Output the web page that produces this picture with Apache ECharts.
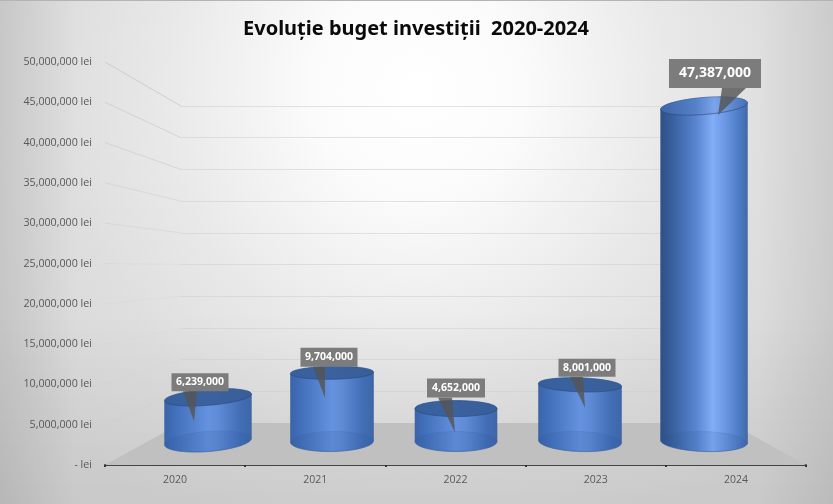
<!DOCTYPE html>
<html><head><meta charset="utf-8">
<style>
html,body{margin:0;padding:0;width:833px;height:504px;overflow:hidden}
body{background:
 linear-gradient(to right,rgba(0,0,0,.09) 0,rgba(0,0,0,0) 9%,rgba(0,0,0,0) 91%,rgba(0,0,0,.07) 100%),
 linear-gradient(to bottom,rgba(0,0,0,0) 62%,rgba(0,0,0,.07) 100%),
 radial-gradient(ellipse 480px 500px at 417px 90px,#ffffff 0%,#fbfbfb 22%,#e9e9e9 52%,#dedede 75%,#d8d8d8 100%)}
#topline{position:absolute;left:0;top:0;width:833px;height:1px;background:#b4b4b4}
#c{position:absolute;left:0;top:0;width:833px;height:504px}
</style>
<script src="https://cdn.jsdelivr.net/npm/echarts@6/dist/echarts.min.js"></script>
</head><body><div id="topline"></div><div id="c"></div>
<script>
const categories = ['2020','2021','2022','2023','2024'];
const budget = [6239000,9704000,4652000,8001000,47387000];
const axisMax = 50000000;
const axisStep = 5000000;
const tickValues = [0,5000000,10000000,15000000,20000000,25000000,30000000,35000000,40000000,45000000,50000000];
const chartTitle = 'Evoluție buget investiții  2020-2024';

// layout only
const front = {left:105,top:62,width:701,height:403};
const mid   = {left:146,top:87.5,width:620,height:354};
const back  = {left:181,top:106,width:549,height:317};
const halfWidth = [43.5,41.5,41,41.5,43.5];
const topTilt = [-4.5,-1,0,2,-4.5];
const botTilt = [-4.5,-1,0,2,2];
const topRy = [8,6.5,8,7,8.5];
const botRy = [10,10,10,10,10];
// box centre dx, box bottom dy, box w, box h, base x0, base x1, tip dx, tip dy (relative to cylinder top centre)
const callouts = [
 [-8,-6,57,18,-25,-11,-14,24],
 [-3,-6,57,19,-19,-7,-7,25],
 [0,-11,58,19,-18,-4,-1,24],
 [7,-8,57,18,-10,3,5,23],
 [11,-18,92,29,18,42,14,9]
];
const fontUi = '"Open Sans","Noto Sans",sans-serif';

const chart = echarts.init(document.getElementById('c'),null,{renderer:'canvas'});

function ell(cx,cy,rx,ry,deg,from,to,n){
  const a=deg*Math.PI/180,pts=[];
  for(let i=0;i<=n;i++){
    const t=from+(to-from)*i/n;
    const x=rx*Math.cos(t),y=ry*Math.sin(t);
    pts.push([cx+x*Math.cos(a)-y*Math.sin(a),cy+x*Math.sin(a)+y*Math.cos(a)]);
  }
  return pts;
}
function grad(stops){
  return {type:'linear',x:0,y:0,x2:1,y2:0,colorStops:stops.map(s=>({offset:s[0],color:s[1]}))};
}
const bodyShort = grad([[0,'#3a64aa'],[0.12,'#416fb9'],[0.5,'#6592de'],[0.62,'#5f8bd6'],[0.88,'#416db5'],[1,'#3f66a8']]);
const bodyTall  = grad([[0,'#2f4f85'],[0.14,'#38609f'],[0.42,'#5b87d2'],[0.6,'#82aef8'],[0.72,'#6f9ae6'],[0.92,'#4a78c2'],[1,'#43699f']]);
const capShort  = grad([[0,'#36609c'],[0.5,'#3b629f'],[1,'#385e98']]);
const capTall   = grad([[0,'#3f67a8'],[0.4,'#5480c8'],[0.62,'#7aa4ec'],[1,'#4671b6']]);

const option = {
  animation:false,
  title:{text:chartTitle,left:411,top:14,textAlign:'center',
    textStyle:{fontFamily:'"Noto Sans",sans-serif',fontSize:20,fontWeight:'bold',color:'#0a0a0a'}},
  grid:[
    {left:front.left,top:front.top,width:front.width,height:front.height},
    {left:mid.left,top:mid.top,width:mid.width,height:mid.height},
    {left:back.left,top:back.top,width:back.width,height:back.height}
  ],
  xAxis:[
    {type:'category',gridIndex:0,data:categories,
     axisLine:{lineStyle:{color:'#444444',width:2}},
     axisTick:{show:true,length:2,alignWithLabel:false,lineStyle:{color:'#333',width:2}},
     axisLabel:{color:'#595959',fontSize:10.5,fontFamily:fontUi,margin:10}},
    {type:'category',gridIndex:1,data:categories,show:false},
    {type:'category',gridIndex:2,data:categories,show:false}
  ],
  yAxis:[
    {type:'value',gridIndex:0,min:0,max:axisMax,interval:axisStep,
     axisLine:{show:false},axisTick:{show:false},splitLine:{show:false},
     axisLabel:{color:'#595959',fontSize:10.7,fontFamily:fontUi,margin:13,
       formatter:v=>v===0?'- lei':v.toLocaleString('en-US')+' lei'}},
    {type:'value',gridIndex:1,min:0,max:axisMax,interval:axisStep,show:false,splitLine:{show:false}},
    {type:'value',gridIndex:2,min:0,max:axisMax,interval:axisStep,
     axisLine:{show:false},axisTick:{show:false},axisLabel:{show:false},
     splitLine:{show:true,lineStyle:{color:'rgba(205,205,205,0.55)',width:1}}}
  ],
  series:[
    { // floor
      type:'custom',xAxisIndex:0,yAxisIndex:0,z:1,silent:true,data:[0],
      renderItem:(p,api)=>{
        const f0=api.coord([0,0])[1], cs=p.coordSys;
        return {type:'polygon',shape:{points:[[cs.x,f0],[cs.x+cs.width,f0],[back.left+back.width,back.top+back.height],[back.left,back.top+back.height]]},
          style:{fill:'#c0c0c0'}};
      }
    },
    { // side-wall lines, fading towards the floor as in the picture
      type:'custom',xAxisIndex:0,yAxisIndex:0,z:1,silent:true,
      data:tickValues.slice(1).map(v=>[0,v]),
      encode:{y:1},
      renderItem:(p,api)=>{
        const v=api.value(1), y0=api.coord([0,v])[1], cs=p.coordSys;
        const y1=back.top+back.height-back.height*v/axisMax;
        const a=Math.max(0.04,(v/axisMax-0.3)*0.85);
        return {type:'line',shape:{x1:cs.x,y1:y0,x2:back.left,y2:y1},style:{stroke:'rgba(190,190,190,'+a+')',lineWidth:1}};
      }
    },
    { // cylinders and callouts
      type:'custom',xAxisIndex:1,yAxisIndex:1,z:5,silent:true,
      data:budget.map((v,i)=>[i,v]),
      encode:{x:0,y:1},
      renderItem:(p,api)=>{
        const i=api.value(0), v=api.value(1);
        const t=api.coord([i,v]), b=api.coord([i,0]);
        const cx=t[0], ty=t[1], by=b[1], rx=halfWidth[i];
        const tall=v>axisMax/2;
        const topE=ell(cx,ty,rx,topRy[i],topTilt[i],0,Math.PI*2,60);
        const botHalf=ell(cx,by,rx,botRy[i],botTilt[i],0,Math.PI,40);
        const topHalf=ell(cx,ty,rx,topRy[i],topTilt[i],Math.PI,Math.PI*2,40);
        const botE=ell(cx,by,rx,botRy[i],botTilt[i],0,Math.PI*2,60);
        const frontRim=ell(cx,ty,rx,topRy[i],topTilt[i],0,Math.PI,40);
        const c=callouts[i];
        const boxX=cx+c[0]-c[2]/2, boxBottom=ty+c[1];
        const size=tall?14:10.5;
        const label=v.toLocaleString('en-US');
        return {type:'group',children:[
          {type:'polygon',shape:{points:botHalf.concat(topHalf)},style:{fill:tall?bodyTall:bodyShort,stroke:'#3f659f',lineWidth:0.6}},
          {type:'polygon',shape:{points:botE},style:{fill:'rgba(35,70,140,0.12)',stroke:'rgba(60,100,165,0.3)',lineWidth:0.6}},
          {type:'polygon',shape:{points:topE},style:{fill:tall?capTall:capShort,stroke:'rgba(50,85,140,0.5)',lineWidth:0.6}},
          {type:'polyline',shape:{points:frontRim},style:{fill:'none',stroke:'rgba(35,60,110,0.35)',lineWidth:1}},
          {type:'polygon',shape:{points:[[cx+c[4],boxBottom],[cx+c[5],boxBottom],[cx+c[6],ty+c[7]]]},
            style:{fill:'rgba(85,85,85,0.82)'}},
          {type:'rect',shape:{x:boxX,y:boxBottom-c[3],width:c[2],height:c[3]},style:{fill:'#7c7c7c'}},
          {type:'text',style:{text:label,x:boxX+c[2]/2,y:boxBottom-c[3]/2,align:'center',verticalAlign:'middle',
            fill:'#ffffff',fontFamily:fontUi,fontSize:size,fontWeight:'bold'}}
        ]};
      }
    }
  ]
};
chart.setOption(option);
</script></body></html>
